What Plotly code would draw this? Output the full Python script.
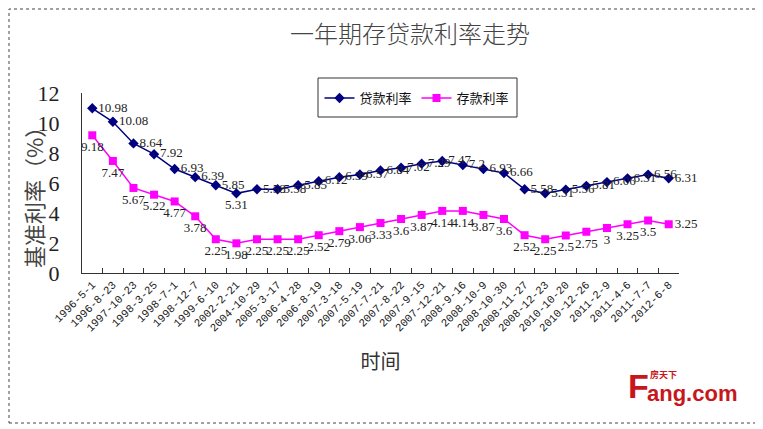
import plotly.graph_objects as go

# 调整日期
dates = ["1996-5-1", "1996-8-23", "1997-10-23", "1998-3-25", "1998-7-1", "1998-12-7",
         "1999-6-10", "2002-2-21", "2004-10-29", "2005-3-17", "2006-4-28", "2006-8-19",
         "2007-3-18", "2007-5-19", "2007-7-21", "2007-8-22", "2007-9-15", "2007-12-21",
         "2008-9-16", "2008-10-9", "2008-10-30", "2008-11-27", "2008-12-23", "2010-10-20",
         "2010-12-26", "2011-2-9", "2011-4-6", "2011-7-7", "2012-6-8"]

# 一年期贷款利率
loan_rate = [10.98, 10.08, 8.64, 7.92, 6.93, 6.39, 5.85, 5.31, 5.58, 5.58, 5.85, 6.12,
             6.39, 6.57, 6.84, 7.02, 7.29, 7.47, 7.2, 6.93, 6.66, 5.58, 5.31, 5.56,
             5.81, 6.06, 6.31, 6.56, 6.31]

# 一年期存款利率
deposit_rate = [9.18, 7.47, 5.67, 5.22, 4.77, 3.78, 2.25, 1.98, 2.25, 2.25, 2.25, 2.52,
                2.79, 3.06, 3.33, 3.6, 3.87, 4.14, 4.14, 3.87, 3.6, 2.52, 2.25, 2.5,
                2.75, 3, 3.25, 3.5, 3.25]

y_ticks = [0, 2, 4, 6, 8, 10, 12]

n = len(dates)
loan_pos = ["middle right"] * n
loan_pos[7] = "bottom center"
dep_pos = ["bottom center"] * n
dep_pos[-1] = "middle right"

label_font = dict(family="Liberation Serif", size=13, color="#222")

# 页面 body 默认有 8px 边距，坐标都按参考图像素减去 8
OFF = 8
FW, FH = 763 - OFF, 429 - OFF
L, R, T, B = 82 - OFF, 679 - OFF, 93 - OFF, 273 - OFF
W, H = R - L, B - T


def px(x):
    return (x - OFF - L) / W


def py(y):
    return (B - (y - OFF)) / H


fig = go.Figure()
fig.add_trace(go.Scatter(
    x=dates, y=loan_rate, name="贷款利率",
    mode="lines+markers+text", cliponaxis=False,
    line=dict(color="#000080", width=1.5),
    marker=dict(symbol="diamond", size=8, color="#000080"),
    text=[f"{v:g}" for v in loan_rate], textposition=loan_pos,
    textfont=label_font,
))
fig.add_trace(go.Scatter(
    x=dates, y=deposit_rate, name="存款利率",
    mode="lines+markers+text", cliponaxis=False,
    line=dict(color="#FF00FF", width=1.5),
    marker=dict(symbol="square", size=8, color="#FF00FF"),
    text=[f"{v:g}" for v in deposit_rate], textposition=dep_pos,
    textfont=label_font,
))

fig.update_layout(
    width=FW, height=FH,
    margin=dict(l=L, r=FW - R, t=T, b=FH - B, autoexpand=False),
    paper_bgcolor="white", plot_bgcolor="white",
    showlegend=True,
    title=dict(text="一年期存贷款利率走势", x=(410 - OFF) / FW, y=1 - (35 - OFF) / FH,
               xref="container", yref="container", xanchor="center", yanchor="middle",
               font=dict(family="Noto Sans CJK SC", size=24, color="#444", weight=300)),
    legend=dict(orientation="h", x=px(417), y=py(98), xanchor="center", yanchor="middle",
                borderwidth=0, bgcolor="rgba(0,0,0,0)",
                font=dict(family="Noto Sans CJK SC", size=13, color="#111")),
    xaxis=dict(type="category", range=[-0.5, n - 0.5], showgrid=False, showline=True,
               linecolor="#333", linewidth=1,
               ticks="inside", ticklen=5, tickcolor="#333", tickson="boundaries",
               tickangle=-45, tickfont=dict(family="Liberation Mono", size=11, color="#222"),
               title=dict(text="时间", font=dict(family="Noto Sans CJK SC", size=20, color="#333"),
                          standoff=21),
               automargin=False, zeroline=False),
    # 主 y 轴只负责刻度文字：透明的外刻度把文字推离轴线
    yaxis=dict(range=[0, 12], tickvals=y_ticks, showgrid=False, showline=True, linecolor="#333",
               linewidth=1, ticks="outside", ticklen=17, tickcolor="rgba(0,0,0,0)",
               tickfont=dict(family="Liberation Serif", size=22, color="#222"),
               automargin=False, zeroline=False),
    # 叠加的 y 轴画向内的刻度线
    yaxis2=dict(range=[0, 12], tickvals=y_ticks, overlaying="y", side="left",
                showgrid=False, showline=False, showticklabels=False,
                ticks="inside", ticklen=5, tickcolor="#333",
                automargin=False, zeroline=False),
    annotations=[
        dict(text="基准利率（%）", textangle=-90, xref="paper", yref="paper",
             x=px(33), y=py(192), xanchor="center", yanchor="middle",
             showarrow=False, font=dict(family="Noto Sans CJK SC", size=22, color="#444")),
        dict(text="<b>F</b>", xref="paper", yref="paper", x=px(626), y=py(386),
             xanchor="left", yanchor="middle", showarrow=False,
             font=dict(family="Liberation Sans", size=34, color="#c8161d")),
        dict(text="<b>ang.com</b>", xref="paper", yref="paper", x=px(645), y=py(393),
             xanchor="left", yanchor="middle", showarrow=False,
             font=dict(family="Liberation Sans", size=22, color="#c8161d")),
        dict(text="<b>房天下</b>", xref="paper", yref="paper", x=px(648), y=py(374),
             xanchor="left", yanchor="middle", showarrow=False,
             font=dict(family="Noto Sans CJK SC", size=9, color="#c8161d")),
    ],
    shapes=[
        dict(type="rect", xref="paper", yref="paper",
             x0=px(OFF + 1), x1=px(757), y0=py(423), y1=py(OFF + 1),
             line=dict(color="#444", width=1, dash="dot"), layer="below"),
        # 图例外框
        dict(type="rect", xref="paper", yref="paper",
             x0=px(318), x1=px(517), y0=py(117), y1=py(78),
             line=dict(color="#333", width=1), layer="below"),
    ],
)

fig.write_html("out.html")
